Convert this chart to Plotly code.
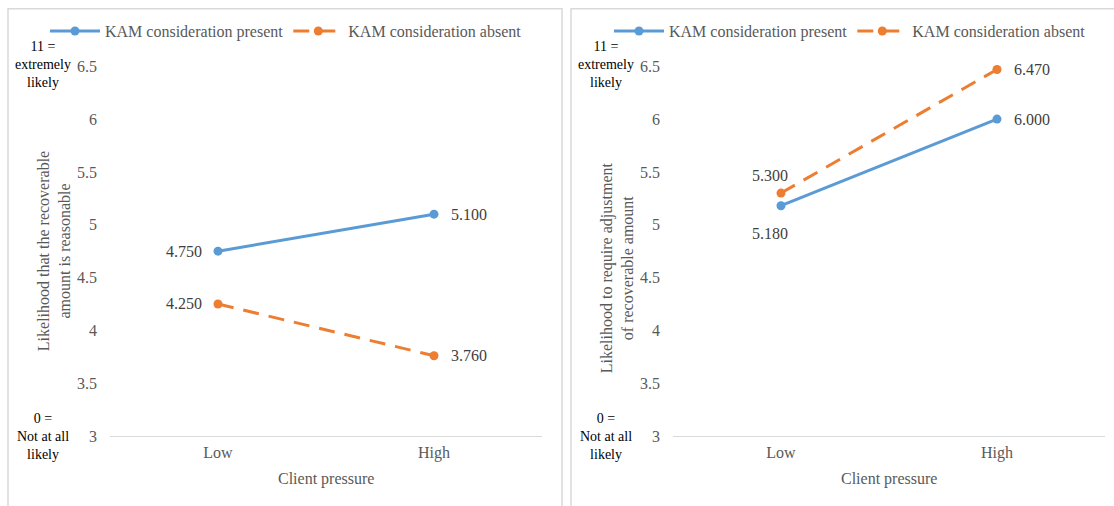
import plotly.graph_objects as go

categories = ["Low", "High"]
left_present = [4.75, 5.10]
left_absent = [4.25, 3.76]
right_present = [5.18, 6.00]
right_absent = [5.30, 6.47]
series_names = ["KAM consideration present", "KAM consideration absent"]
left_title = "Likelihood that the recoverable<br>amount is reasonable"
right_title = "Likelihood to require adjustment<br>of recoverable amount"
x_title = "Client pressure"
y_ticks = [3, 3.5, 4, 4.5, 5, 5.5, 6, 6.5]
top_note = "11 =<br>extremely<br>likely"
bottom_note = "0 =<br>Not at all<br>likely"

W, H = 1114, 525
BLUE = "#5B9BD5"
ORANGE = "#ED7D31"
GRAY = "#595959"
FONT = "Liberation Serif"
DASH = "16px,10px"

# the capture maps page y to picture y as  y_pic = S*y_page + B
S, B = 0.963, 9.0

def px(x):
    return x / W

def page_y(y_pic):
    return (y_pic - B) / S

def py(y_pic):
    return 1 - page_y(y_pic) / H

fig = go.Figure()

def add_series(vals, name, color, dash, xa, ya, legend):
    fig.add_trace(go.Scatter(
        x=categories, y=vals, name=name, mode="lines+markers",
        line=dict(color=color, width=3, dash=dash),
        marker=dict(color=color, size=9),
        xaxis=xa, yaxis=ya, legend=legend, cliponaxis=False,
    ))

add_series(left_present, series_names[0], BLUE, "solid", "x", "y", "legend")
add_series(left_absent, series_names[1], ORANGE, DASH, "x", "y", "legend")
add_series(right_present, series_names[0], BLUE, "solid", "x2", "y2", "legend2")
add_series(right_absent, series_names[1], ORANGE, DASH, "x2", "y2", "legend2")

ydom = [py(435), py(67)]
axis_x = dict(type="category", range=[-0.5, 1.5], showline=True, linecolor="#d9d9d9",
              linewidth=1, showgrid=False, zeroline=False, ticks="",
              ticklabelstandoff=2,
              tickfont=dict(family=FONT, size=16, color=GRAY))
axis_y = dict(range=[3, 6.5], tickvals=y_ticks, ticktext=[f"{t:g}" for t in y_ticks],
              showline=False, showgrid=False, zeroline=False, ticks="",
              ticklabelstandoff=12,
              tickfont=dict(family=FONT, size=16, color=GRAY))

legend_common = dict(orientation="h", bgcolor="rgba(0,0,0,0)", yanchor="middle",
                     xanchor="left", font=dict(family=FONT, size=16, color=GRAY),
                     itemwidth=50, tracegroupgap=0)

fig.update_layout(
    width=W, height=H, margin=dict(l=0, r=0, t=0, b=0),
    paper_bgcolor="white", plot_bgcolor="white",
    xaxis=dict(axis_x, domain=[px(110), px(542)]),
    yaxis=dict(axis_y, domain=ydom),
    xaxis2=dict(axis_x, domain=[px(673), px(1105)], anchor="y2"),
    yaxis2=dict(axis_y, domain=ydom, anchor="x2"),
    legend=dict(legend_common, x=px(45), y=py(32)),
    legend2=dict(legend_common, x=px(609), y=py(32)),
    showlegend=True,
)

# panel borders
top = 1 - 0.8 / H
for x0, x1 in [(8, 562), (571, 1130)]:
    fig.add_shape(type="rect", xref="paper", yref="paper",
                  x0=px(x0), x1=px(x1), y0=-0.05, y1=top,
                  line=dict(color="#d9d9d9", width=1.5), fillcolor="rgba(0,0,0,0)",
                  layer="below")

annots = []

# data labels: (xaxis, yaxis, values, [(xanchor, xshift, yshift) per point])
label_specs = [
    ("x", "y", left_present, [("right", -14, 0), ("left", 15, 0)]),
    ("x", "y", left_absent, [("right", -14, 0), ("left", 15, 0)]),
    ("x2", "y2", right_present, [("center", -11, -28), ("left", 15, 0)]),
    ("x2", "y2", right_absent, [("center", -11, 18), ("left", 15, 0)]),
]
for xa, ya, vals, specs in label_specs:
    for cat, v, (anc, xs, ys) in zip(categories, vals, specs):
        annots.append(dict(text=f"{v:.3f}", x=cat, y=v, xref=xa, yref=ya,
                           showarrow=False, xanchor=anc, yanchor="middle",
                           xshift=xs, yshift=ys,
                           font=dict(family=FONT, size=16, color="#404040")))

for off, title, tcy in [(0, left_title, 251), (563, right_title, 268)]:
    annots.append(dict(text=title, x=px(54 + off), y=py(tcy), xref="paper", yref="paper",
                       textangle=-90, showarrow=False, xanchor="center", yanchor="middle",
                       font=dict(family=FONT, size=16, color=GRAY)))
    annots.append(dict(text=x_title, x=px(326 + off), y=py(478), xref="paper", yref="paper",
                       showarrow=False, xanchor="center", yanchor="middle",
                       font=dict(family=FONT, size=16, color=GRAY)))
    annots.append(dict(text=top_note, x=px(43 + off), y=py(65), xref="paper", yref="paper",
                       showarrow=False, xanchor="center", yanchor="middle",
                       font=dict(family=FONT, size=14, color="#000000")))
    annots.append(dict(text=bottom_note, x=px(43 + off), y=py(435), xref="paper", yref="paper",
                       showarrow=False, xanchor="center", yanchor="middle",
                       font=dict(family=FONT, size=14, color="#000000")))
fig.update_layout(annotations=annots)

post = (
    "document.documentElement.style.margin='0';"
    "document.body.style.margin='0';"
    "document.body.style.overflow='hidden';"
    "document.documentElement.style.overflow='hidden';"
    "var d=document.getElementById('{plot_id}');"
    "d.style.position='fixed';d.style.top='0px';d.style.left='0px';"
)

fig.write_html("out.html", post_script=post, config={"displayModeBar": False})
